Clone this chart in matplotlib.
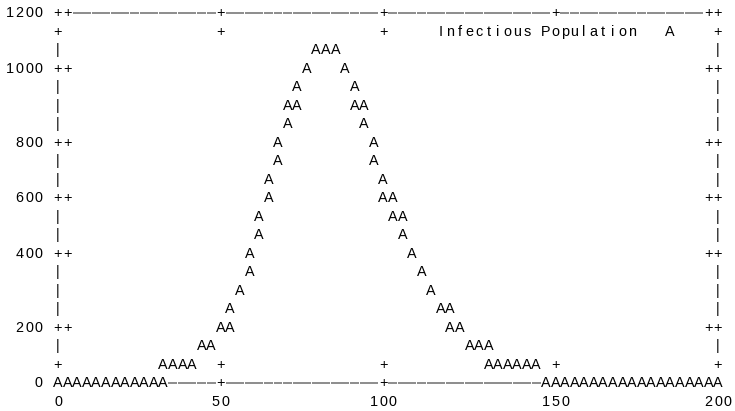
import matplotlib
matplotlib.use("Agg")
import matplotlib.pyplot as plt

# infectious population (day, people)
days = [0.0, 2.9, 5.8, 8.7, 11.6, 14.5, 17.4, 20.3, 23.2, 26.1, 29.0,
        31.4, 32.5, 34.8, 37.7, 40.6, 43.5, 46.4, 49.3, 51.7, 52.8,
        55.1, 57.5, 58.6, 60.4, 61.5, 63.3, 64.4, 66.2, 67.2, 69.1,
        70.1, 72.0, 73.0, 75.4, 78.3, 81.2, 84.1, 87.0, 89.4, 90.4,
        92.3, 93.3, 95.2, 96.2, 98.1, 99.1, 100.9, 102.0, 103.8, 104.9,
        107.2, 110.1, 113.0, 115.9, 118.3, 119.4, 121.7, 124.6, 127.5, 129.9,
        131.0, 133.3, 136.2, 139.1, 142.0, 144.9, 147.8, 150.7, 153.6, 156.5,
        159.4, 162.3, 165.2, 168.1, 171.0, 173.9, 176.8, 179.7, 182.6, 185.5,
        188.4, 191.3, 194.2, 197.1, 200.0]
infected = [1, 1, 2, 2, 3, 4, 6, 8, 11, 15, 20,
            26, 33, 42, 55, 72, 95, 122, 160, 195, 222,
            290, 360, 400, 470, 520, 590, 645, 715, 765, 830,
            875, 925, 960, 1015, 1058, 1080, 1070, 1030, 975, 920,
            885, 850, 790, 735, 680, 620, 590, 545, 525, 480,
            420, 360, 305, 255, 225, 200, 170, 140, 115, 95,
            85, 72, 60, 50, 42, 35, 29, 24, 20, 17,
            14, 12, 10, 8, 7, 6, 5, 4, 3, 3,
            2, 2, 2, 1, 1]

x_ticks = [0, 50, 100, 150, 200]
y_ticks = [0, 200, 400, 600, 800, 1000, 1200]
legend_title = "Infectious Population"
point_char = "A"

XMAX, YMAX = 200, 1200
NCOLS, NROWS = 69, 20          # character cells across / down the plot box
COLPX, ROWPX = 660 / 69, 18.5  # cell size in pixels
LEFTPX, TOPPX = 58, 13         # pixel centre of cell (0, 0)


def col_of(x):
    return int(round(x / XMAX * NCOLS))


def row_of(y):
    return int(round((YMAX - y) / YMAX * NROWS))


def cell_xy(col, row):
    return col * XMAX / NCOLS, YMAX - row * YMAX / NROWS


# build the character grid the way a dumb terminal would
grid = {}
for c in range(NCOLS + 1):
    grid[(c, 0)] = "-"
    grid[(c, NROWS)] = "-"
for r in range(NROWS + 1):
    grid[(0, r)] = "|"
    grid[(NCOLS, r)] = "|"
for t in x_ticks:
    c = col_of(t)
    for r in (0, 1, NROWS - 1, NROWS):
        grid[(c, r)] = "+"
for t in y_ticks:
    r = row_of(t)
    for c in (0, 1, NCOLS - 1, NCOLS):
        grid[(c, r)] = "+"

# key
key_end = 60
for i, ch in enumerate(legend_title):
    grid[(key_end - len(legend_title) + 1 + i, 1)] = ch
grid[(key_end + 4, 1)] = point_char

for d, v in zip(days, infected):
    grid[(col_of(d), row_of(v))] = point_char

fig = plt.figure(figsize=(7.35, 4.11), dpi=100)
ax = fig.add_axes([0, 0, 1, 1])
ax.set_xlim(-LEFTPX / (NCOLS * COLPX) * XMAX, (735 - LEFTPX) / (NCOLS * COLPX) * XMAX)
bottom_px = TOPPX + NROWS * ROWPX
ax.set_ylim(-(411 - bottom_px) / (NROWS * ROWPX) * YMAX, YMAX + TOPPX / (NROWS * ROWPX) * YMAX)
ax.axis("off")

xu = XMAX / NCOLS / COLPX   # data units per pixel
yu = YMAX / NROWS / ROWPX
base = 4.3 * yu             # baseline sits a bit below cell centre
font = dict(family="Liberation Sans", fontsize=10.4, color="black")

seg_y, seg_x0, seg_x1 = [], [], []
for (c, r), ch in grid.items():
    x, y = cell_xy(c, r)
    if ch == "-":
        seg_y.append(y)
        seg_x0.append(x - 4.5 * xu)
        seg_x1.append(x + 4.5 * xu)
    else:
        ax.text(x, y - base, ch, ha="center", va="baseline", **font)
ax.hlines(seg_y, seg_x0, seg_x1, colors="#6e6e6e", linewidth=1.1)

# tick labels
for t in y_ticks:
    lab = str(t)
    r = row_of(t)
    for i, ch in enumerate(lab):
        x, y = cell_xy(-2 - (len(lab) - 1 - i), r)
        ax.text(x, y - base, ch, ha="center", va="baseline", **font)
for t in x_ticks:
    lab = str(t)
    c = col_of(t)
    for i, ch in enumerate(lab):
        x, y = cell_xy(c - (len(lab) - 1) / 2 + i, NROWS + 1)
        ax.text(x, y - base, ch, ha="center", va="baseline", **font)

fig.savefig("out.png", dpi=100)
